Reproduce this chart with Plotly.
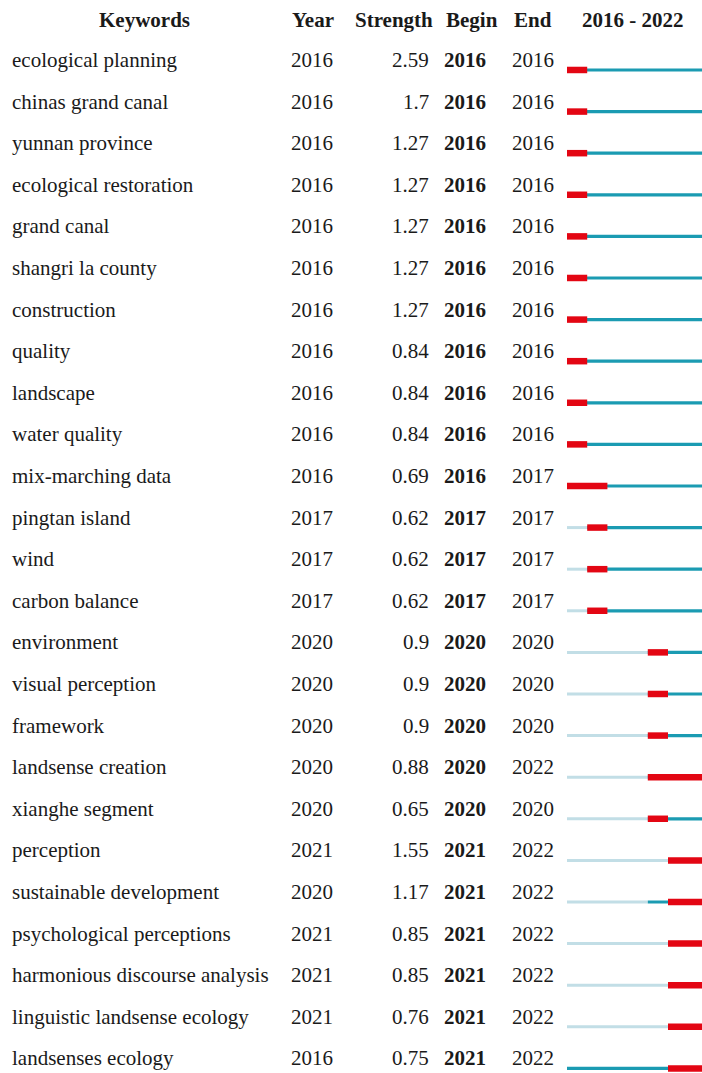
import plotly.graph_objects as go

keywords = ["ecological planning", "chinas grand canal", "yunnan province", "ecological restoration",
            "grand canal", "shangri la county", "construction", "quality", "landscape", "water quality",
            "mix-marching data", "pingtan island", "wind", "carbon balance", "environment",
            "visual perception", "framework", "landsense creation", "xianghe segment", "perception",
            "sustainable development", "psychological perceptions", "harmonious discourse analysis",
            "linguistic landsense ecology", "landsenses ecology"]
years = [2016] * 11 + [2017] * 3 + [2020] * 5 + [2021, 2020, 2021, 2021, 2021, 2016]
strengths = [2.59, 1.7, 1.27, 1.27, 1.27, 1.27, 1.27, 0.84, 0.84, 0.84, 0.69, 0.62, 0.62, 0.62,
             0.9, 0.9, 0.9, 0.88, 0.65, 1.55, 1.17, 0.85, 0.85, 0.76, 0.75]
begins = [2016] * 11 + [2017] * 3 + [2020] * 5 + [2021] * 6
ends = [2016] * 10 + [2017] * 4 + [2020, 2020, 2020, 2022, 2020] + [2022] * 6
headers = ["Keywords", "Year", "Strength", "Begin", "End", "2016 - 2022"]
start_year, end_year = 2016, 2022

W, H = 702, 1073
FONT = "Liberation Serif"
FS = 21
TXT = "#1a1a1a"
RED = "#e30613"
TEAL = "#1b9bb2"
LIGHT = "#c2dee6"
BAR_OFF = 0.24

fig = go.Figure()

lx, ly, tx, ty, rx, ry = [], [], [], [], [], []
for i in range(len(keywords)):
    yy = i + BAR_OFF
    if years[i] > start_year:
        lx += [start_year, years[i], None]
        ly += [yy, yy, None]
    tx += [years[i], end_year + 1, None]
    ty += [yy, yy, None]
    rx += [begins[i], ends[i] + 1, None]
    ry += [yy, yy, None]

fig.add_trace(go.Scatter(x=lx, y=ly, mode="lines", line=dict(color=LIGHT, width=3),
                         hoverinfo="skip", showlegend=False))
fig.add_trace(go.Scatter(x=tx, y=ty, mode="lines", line=dict(color=TEAL, width=3.2),
                         hoverinfo="skip", showlegend=False))
fig.add_trace(go.Scatter(x=rx, y=ry, mode="lines", line=dict(color=RED, width=6.5),
                         hoverinfo="skip", showlegend=False))

def px(p):
    return p / W

ann = []
def add(text, xpix, y, anchor="left", bold=False):
    t = f"<b>{text}</b>" if bold else text
    ann.append(dict(text=t, x=px(xpix), xref="paper", y=y, yref="y", xanchor=anchor,
                    yanchor="middle", showarrow=False,
                    font=dict(family=FONT, size=FS, color=TXT), borderpad=0, borderwidth=0))

hy = -0.96
add(headers[0], 144, hy, "center", True)
add(headers[1], 292, hy, "left", True)
add(headers[2], 433, hy, "right", True)
add(headers[3], 446, hy, "left", True)
add(headers[4], 514, hy, "left", True)
add(headers[5], 582, hy, "left", True)

for i, k in enumerate(keywords):
    add(k, 12, i)
    add(str(years[i]), 291, i)
    add(str(strengths[i]), 429, i, "right")
    add(str(begins[i]), 444, i, "left", True)
    add(str(ends[i]), 512, i)

ppy = 20.2
x0 = start_year - 567 / ppy
x1 = start_year + (W - 567) / ppy
rowh = 41.6
y_top = -60 / rowh
y_bot = (H - 60) / rowh

fig.update_layout(
    width=W, height=H, margin=dict(l=0, r=0, t=0, b=0),
    paper_bgcolor="white", plot_bgcolor="white",
    xaxis=dict(range=[x0, x1], visible=False, fixedrange=True),
    yaxis=dict(range=[y_bot, y_top], visible=False, fixedrange=True),
    annotations=ann,
)

fig.write_html("out.html")
